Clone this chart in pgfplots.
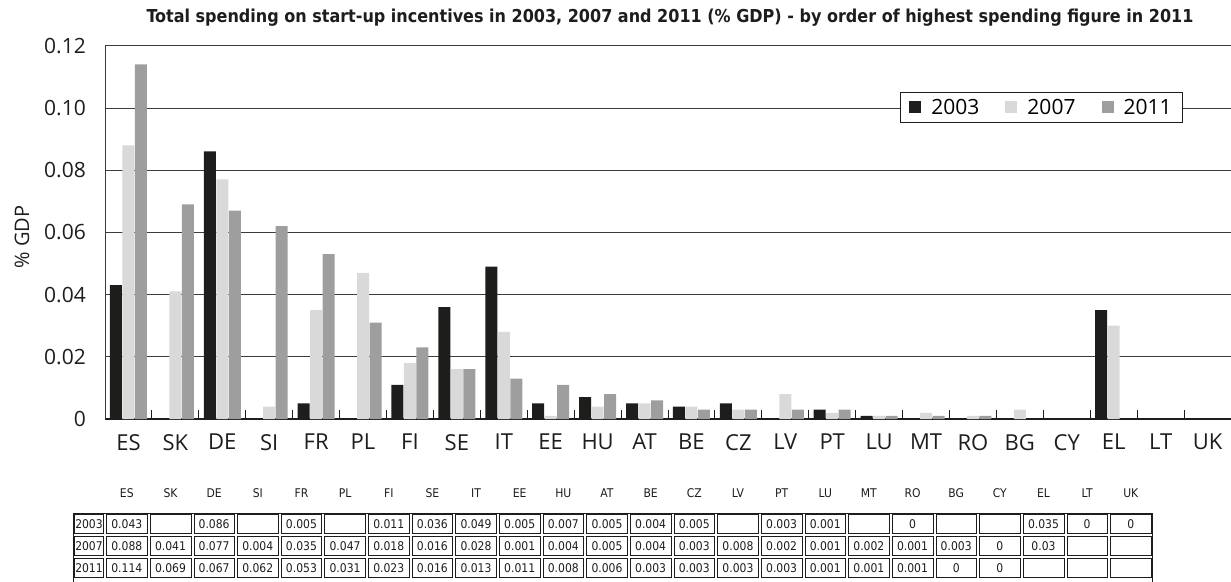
\documentclass[border=0pt]{standalone}
\usepackage{fontspec}
\setmainfont{Open Sans}
\newfontfamily\condfont{DejaVu Sans Condensed}
\usepackage{pgfplots}
\pgfplotsset{compat=1.18}
\definecolor{cA}{HTML}{1D1D1B}
\definecolor{cB}{HTML}{D9D9D9}
\definecolor{cC}{HTML}{9D9E9D}
\definecolor{gridc}{HTML}{3C3C3C}
\begin{document}
\begin{tikzpicture}
\useasboundingbox (0pt,0pt) rectangle (1231pt,-581pt);
\begin{axis}[
  scale only axis,
  width=1126pt, height=373.3pt,
  at={(105pt,-419pt)}, anchor=south west,
  ybar, bar width=12pt,
  xmin=-0.5, xmax=23.5, ymin=0, ymax=0.12,
  axis x line*=bottom, axis y line*=left,
  x axis line style={line width=1.2pt, color=cA},
  y axis line style={line width=0.8pt, color=gridc},
  xtick={0,...,23},
  xticklabels={ES,SK,DE,SI,FR,PL,FI,SE,IT,EE,HU,AT,BE,CZ,LV,PT,LU,MT,RO,BG,CY,EL,LT,UK},
  major x tick style={draw=none},
  minor xtick={0.5,1.5,...,23.5},
  minor tick length=9pt,
  tick align=inside,
  minor x tick style={line width=0.9pt, color=cA},
  ytick={0,0.02,0.04,0.06,0.08,0.10,0.12},
  yticklabels={0,0.02,0.04,0.06,0.08,0.10,0.12},
  major y tick style={draw=none},
  ymajorgrids,
  major grid style={line width=0.8pt, color=gridc},
  /pgf/number format/assume math mode=true,
  tick label style={font=\fontsize{21}{24}\selectfont, text=cA},
  yticklabel style={inner sep=0pt, xshift=-19pt},
  xticklabel style={inner sep=0pt, anchor=north, yshift=-15pt, font=\fontsize{22}{26}\selectfont},
  legend columns=3,
  legend style={at={(0.8317,0.8345)}, anchor=center, draw=cA, line width=0.8pt, fill=white,
    font=\fontsize{21}{24}\selectfont, inner xsep=9pt, inner ysep=5pt,
    /tikz/every odd column/.append style={column sep=8pt},
    /tikz/every even column/.append style={column sep=24pt}},
  legend image code/.code={\fill[#1] (0pt,-6pt) rectangle (12pt,6pt);},
]
\addplot[fill=cA, draw=none, bar shift=-12.5pt] coordinates {(0,0.043) (2,0.086) (4,0.005) (6,0.011) (7,0.036) (8,0.049) (9,0.005) (10,0.007) (11,0.005) (12,0.004) (13,0.005) (15,0.003) (16,0.001) (21,0.035)};
\addplot[fill=cB, draw=none, bar shift=0pt] coordinates {(0,0.088) (1,0.041) (2,0.077) (3,0.004) (4,0.035) (5,0.047) (6,0.018) (7,0.016) (8,0.028) (9,0.001) (10,0.004) (11,0.005) (12,0.004) (13,0.003) (14,0.008) (15,0.002) (16,0.001) (17,0.002) (18,0.001) (19,0.003) (21,0.030)};
\addplot[fill=cC, draw=none, bar shift=12.5pt] coordinates {(0,0.114) (1,0.069) (2,0.067) (3,0.062) (4,0.053) (5,0.031) (6,0.023) (7,0.016) (8,0.013) (9,0.011) (10,0.008) (11,0.006) (12,0.003) (13,0.003) (14,0.003) (15,0.003) (16,0.001) (17,0.001) (18,0.001)};
\legend{2003,2007,2011}
\end{axis}
% title and y label
\node[font=\condfont\bfseries\fontsize{17.8}{20}\selectfont, text=cA] at (670pt,-18pt) {Total spending on start-up incentives in 2003, 2007 and 2011 (\% GDP) - by order of highest spending figure in 2011};
\node[rotate=90, font=\fontsize{20}{24}\selectfont, text=cA] at (22pt,-237pt) {\% GDP};
% data table
\def\tl{73}\def\tc{105}\def\cw{43.65}\def\tt{513}\def\rh{22}
\foreach \c [count=\i from 0] in {ES,SK,DE,SI,FR,PL,FI,SE,IT,EE,HU,AT,BE,CZ,LV,PT,LU,MT,RO,BG,CY,EL,LT,UK}{
  \node[font=\condfont\fontsize{12}{14}\selectfont, text=cA] at ({(\tc+(\i+0.5)*\cw)*1pt},-493pt) {\c};
}
\draw[cA, line width=0.7pt] (\tl pt,-\tt pt) rectangle (1152.6pt,-582pt);
\foreach \r/\lab/\vals in {0/2003/{0.043,,0.086,,0.005,,0.011,0.036,0.049,0.005,0.007,0.005,0.004,0.005,,0.003,0.001,,0,,,0.035,0,0},
  1/2007/{0.088,0.041,0.077,0.004,0.035,0.047,0.018,0.016,0.028,0.001,0.004,0.005,0.004,0.003,0.008,0.002,0.001,0.002,0.001,0.003,0,0.03,,},
  2/2011/{0.114,0.069,0.067,0.062,0.053,0.031,0.023,0.016,0.013,0.011,0.008,0.006,0.003,0.003,0.003,0.003,0.001,0.001,0.001,0,0,,,}}{
  \draw[cA, line width=0.6pt] ({(\tl+1.5)*1pt},{-(\tt+\r*\rh+1.5)*1pt}) rectangle ({(\tc-1.5)*1pt},{-(\tt+(\r+1)*\rh-1.5)*1pt});
  \node[font=\condfont\fontsize{12}{14}\selectfont, text=cA] at ({(\tl+\tc)/2*1pt},{-(\tt+(\r+0.5)*\rh)*1pt}) {\lab};
  \foreach \v [count=\j from 0] in \vals {
    \draw[cA, line width=0.6pt] ({(\tc+\j*\cw+1.5)*1pt},{-(\tt+\r*\rh+1.5)*1pt}) rectangle ({(\tc+(\j+1)*\cw-1.5)*1pt},{-(\tt+(\r+1)*\rh-1.5)*1pt});
    \node[font=\condfont\fontsize{12}{14}\selectfont, text=cA] at ({(\tc+(\j+0.5)*\cw)*1pt},{-(\tt+(\r+0.5)*\rh)*1pt}) {\v};
  }
}
\end{tikzpicture}
\end{document}
